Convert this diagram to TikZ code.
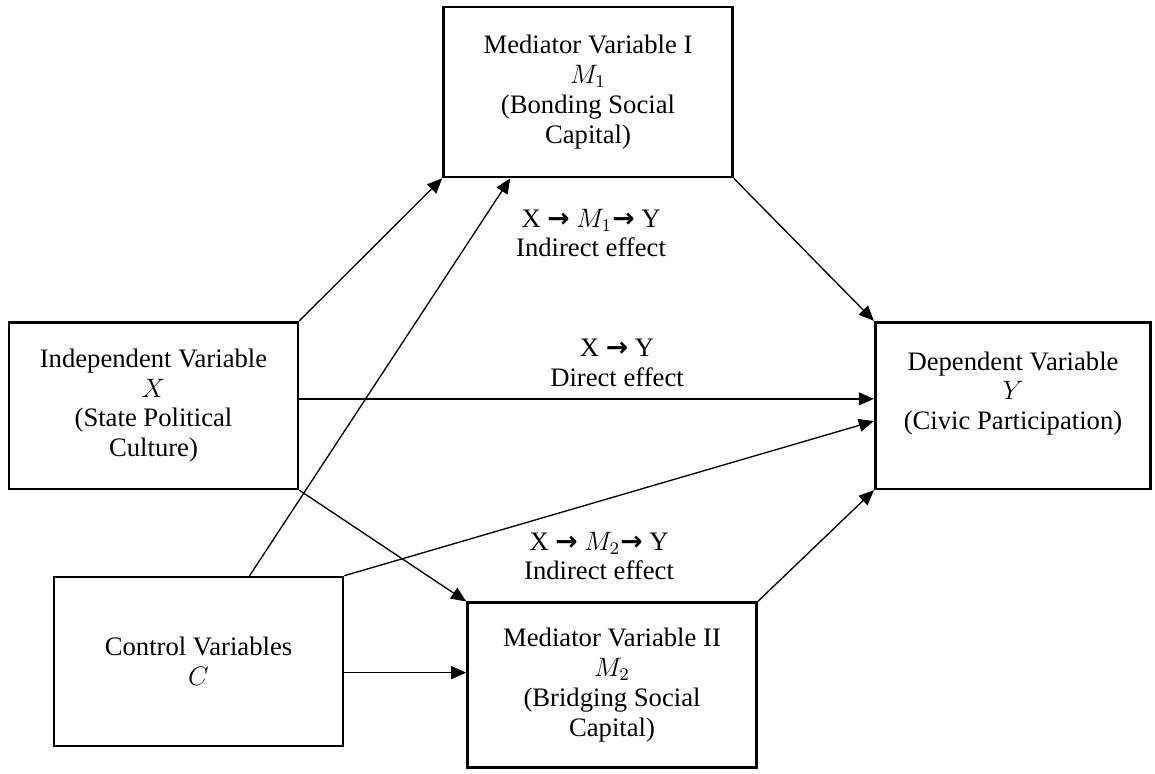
\documentclass[tikz,border=0pt]{standalone}
\usepackage{fontspec}
\setmainfont{Liberation Serif}
\newfontfamily\arrowsym{DejaVu Sans}
\usetikzlibrary{arrows.meta}
\newcommand{\pathto}{{\arrowsym\bfseries →}}
\begin{document}
\begin{tikzpicture}[x=0.45pt,y=-0.45pt,font=\fontsize{12}{13.4}\selectfont,
  varbox/.style={draw,line width=1.2pt,align=center,minimum width=130pt,inner sep=0pt},
  effect/.style={-{Triangle[length=6.8pt,width=5.8pt]},line width=0.6pt}]
  \useasboundingbox (0,0) rectangle (1155,773);
  \node[varbox,minimum height=76.5pt] (mone) at (588,92)
    {Mediator Variable I\\$M_1$\\(Bonding Social\\Capital)};
  \node[varbox,minimum height=75pt] (xv) at (153.5,405.5)
    {Independent Variable\\$X$\\(State Political\\Culture)};
  \node[varbox,minimum height=75pt,minimum width=124pt] (yv) at (1013,405.5)
    {Dependent Variable\\$Y$\\(Civic Participation)\\\mbox{}};
  \node[varbox,minimum height=76pt] (ctrl) at (198.5,661.5)
    {Control Variables\\$C$};
  \node[varbox,minimum height=74pt] (mtwo) at (612,685)
    {Mediator Variable II\\$M_2$\\(Bridging Social\\Capital)};
  \node[align=center] (lbone) at (591,233) {X \pathto\ $M_1$\pathto\ Y\\Indirect effect};
  \node[align=center] (lbdirect) at (617,363) {X \pathto\ Y\\Direct effect};
  \node[align=center] (lbtwo) at (599,556) {X \pathto\ $M_2$\pathto\ Y\\Indirect effect};
  \draw[effect] (xv.north east) -- (mone.south west);
  \draw[effect] ([xshift=23pt]ctrl.north) -- ([xshift=-35pt]mone.south);
  \draw[effect] (mone.south east) -- (yv.north west);
  \draw[effect] ([yshift=3pt]xv.east) -- ([yshift=3pt]yv.west);
  \draw[effect] (ctrl.north east) -- ([yshift=-7pt]yv.west);
  \draw[effect] (xv.south east) -- (mtwo.north west);
  \coordinate (cright) at ([yshift=-5pt]ctrl.east);
  \draw[effect] (cright) -- (cright -| mtwo.west);
  \draw[effect] (mtwo.north east) -- (yv.south west);
\end{tikzpicture}
\end{document}
